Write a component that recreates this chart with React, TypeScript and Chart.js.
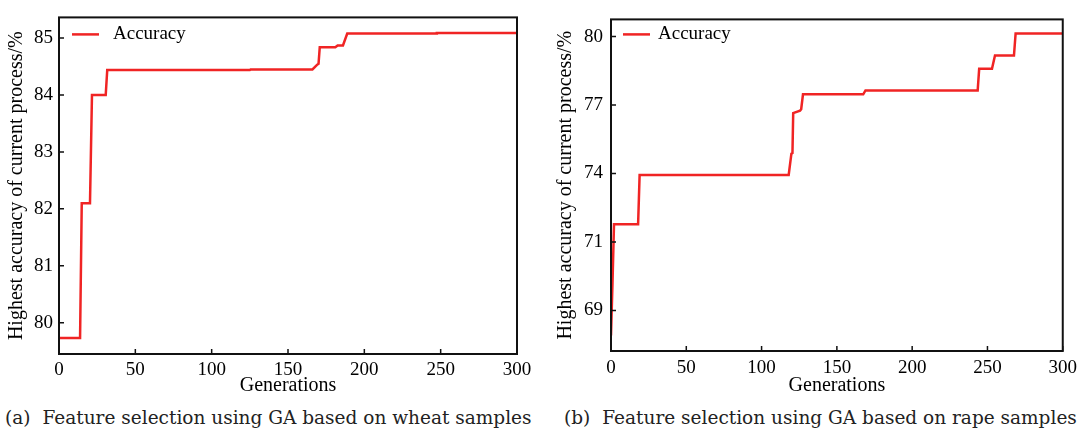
import React, { useEffect, useRef } from 'react';
import { Chart, registerables } from 'chart.js';
Chart.register(...registerables);

// ---------- data ----------
const xTickValues = [0, 50, 100, 150, 200, 250, 300];

const genA = [0, 13.8, 14.9, 20.3, 21.6, 30.6, 31.6, 125, 125.5, 166, 169, 170, 170.8, 181, 182.5, 186, 188.8, 247, 247.5, 300];
const accA = [79.73, 79.73, 82.1, 82.1, 84.0, 84.0, 84.44, 84.44, 84.45, 84.45, 84.53, 84.55, 84.84, 84.84, 84.87, 84.87, 85.08, 85.08, 85.09, 85.09];
const yTickValuesA = [80, 81, 82, 83, 84, 85];
const yTickLabelsA = ['80', '81', '82', '83', '84', '85'];

const genB = [0, 1, 2, 18, 19, 50, 118, 119.8, 120.5, 121, 125.5, 126.3, 127.5, 167.5, 169, 243.5, 244.5, 253, 255, 267.6, 268.7, 300];
const accB = [66.9, 69.2, 71.78, 71.78, 73.93, 73.94, 73.94, 74.87, 74.9, 76.65, 76.75, 76.82, 77.47, 77.47, 77.64, 77.64, 78.59, 78.59, 79.17, 79.17, 80.14, 80.14];
const yTickValuesB = [68, 71, 74, 77, 80];
const yTickLabelsB = ['69', '71', '74', '77', '80'];

const seriesLabel = 'Accuracy';
const xTitle = 'Generations';
const yTitle = 'Highest accuracy of current process/%';
const captionA = ['(a)', 'Feature selection using GA based on wheat samples'];
const captionB = ['(b)', 'Feature selection using GA based on rape samples'];

// ---------- styling ----------
const SERIF = "'Liberation Serif', 'Times New Roman', serif";
const LINE_COLOR = '#f02424';

const frameTicks = {
  id: 'frameTicks',
  afterDraw(chart: any) {
    const { ctx, chartArea: a, scales } = chart;
    ctx.save();
    ctx.strokeStyle = '#111';
    ctx.lineWidth = 1.5;
    const len = 5;
    ctx.beginPath();
    scales.x.ticks.forEach((t: any) => {
      const px = scales.x.getPixelForValue(t.value);
      ctx.moveTo(px, a.bottom);
      ctx.lineTo(px, a.bottom - len);
    });
    scales.y.ticks.forEach((t: any) => {
      const py = scales.y.getPixelForValue(t.value);
      ctx.moveTo(a.left, py);
      ctx.lineTo(a.left + len, py);
    });
    ctx.stroke();
    ctx.lineWidth = 2;
    ctx.strokeRect(a.left, a.top, a.right - a.left, a.bottom - a.top);
    ctx.restore();
  },
};

const innerLegend = {
  id: 'innerLegend',
  afterDraw(chart: any, _args: any, opts: any) {
    const { ctx, chartArea: a } = chart;
    const ds = chart.data.datasets[0];
    const y = a.top + opts.dy;
    ctx.save();
    ctx.strokeStyle = ds.borderColor;
    ctx.lineWidth = 2.5;
    ctx.beginPath();
    ctx.moveTo(a.left + opts.x0, y);
    ctx.lineTo(a.left + opts.x1, y);
    ctx.stroke();
    ctx.fillStyle = '#000';
    ctx.font = `19px ${SERIF}`;
    ctx.textBaseline = 'middle';
    ctx.textAlign = 'left';
    ctx.fillText(ds.label, a.left + opts.tx, y);
    ctx.restore();
  },
};

function makeConfig(p: any): any {
  return {
    type: 'line',
    data: {
      datasets: [
        {
          label: seriesLabel,
          data: p.gens.map((g: number, i: number) => ({ x: g, y: p.acc[i] })),
          borderColor: LINE_COLOR,
          backgroundColor: LINE_COLOR,
          borderWidth: 2.5,
          pointRadius: 0,
          tension: 0,
          fill: false,
        },
      ],
    },
    options: {
      animation: false,
      responsive: false,
      maintainAspectRatio: false,
      layout: { padding: { top: p.padTop, right: p.padRight, left: 0, bottom: 0 } },
      plugins: {
        legend: { display: false },
        tooltip: { enabled: false },
        innerLegend: p.legend,
      },
      scales: {
        x: {
          type: 'linear',
          min: 0,
          max: 300,
          afterBuildTicks: (s: any) => {
            s.ticks = xTickValues.map((v) => ({ value: v }));
          },
          afterFit: (s: any) => {
            s.height = p.xHeight;
          },
          grid: { display: false, drawTicks: false },
          border: { display: false },
          ticks: {
            autoSkip: false,
            maxRotation: 0,
            padding: p.xTickPad,
            color: '#000',
            font: { family: SERIF, size: 19 },
            callback: (v: any) => String(v),
          },
          title: {
            display: true,
            text: xTitle,
            color: '#000',
            font: { family: SERIF, size: 20 },
            padding: { top: 0, bottom: 2 },
          },
        },
        y: {
          type: 'linear',
          min: p.yMin,
          max: p.yMax,
          afterBuildTicks: (s: any) => {
            s.ticks = p.yTicks.map((v: number) => ({ value: v }));
          },
          afterFit: (s: any) => {
            s.width = p.yWidth;
          },
          grid: { display: false, drawTicks: false },
          border: { display: false },
          ticks: {
            autoSkip: false,
            padding: p.yTickPad,
            color: '#000',
            font: { family: SERIF, size: 19 },
            callback: (_v: any, i: number) => p.yLabels[i],
          },
          title: {
            display: true,
            text: yTitle,
            color: '#000',
            font: { family: SERIF, size: 20 },
            padding: { top: p.yTitlePad, bottom: 0 },
          },
        },
      },
    },
    plugins: [frameTicks, innerLegend],
  };
}

function ChartCanvas({ cfg, left, width, height }: any) {
  const ref = useRef<HTMLCanvasElement>(null);
  useEffect(() => {
    if (!ref.current) return;
    const chart = new Chart(ref.current, makeConfig(cfg));
    return () => chart.destroy();
  }, []);
  return (
    <canvas
      ref={ref}
      width={width}
      height={height}
      style={{ position: 'absolute', left, top: 0, width, height }}
    />
  );
}

const cfgA = {
  gens: genA,
  acc: accA,
  yMin: 79.45,
  yMax: 85.364,
  yTicks: yTickValuesA,
  yLabels: yTickLabelsA,
  padTop: 13,
  padRight: 24,
  yWidth: 59,
  xHeight: 46,
  xTickPad: 5,
  yTickPad: 6,
  yTitlePad: 5,
  legend: { x0: 13, x1: 40, tx: 54, dy: 17 },
};

const cfgB = {
  gens: genB,
  acc: accB,
  yMin: 66.22,
  yMax: 80.755,
  yTicks: yTickValuesB,
  yLabels: yTickLabelsB,
  padTop: 18,
  padRight: 15,
  yWidth: 70,
  xHeight: 49,
  xTickPad: 6,
  yTickPad: 8,
  yTitlePad: 13,
  legend: { x0: 12, x1: 39, tx: 47, dy: 15 },
};

function Caption({ parts, left }: any) {
  return (
    <div
      style={{
        position: 'absolute',
        left,
        top: 407,
        whiteSpace: 'nowrap',
        fontFamily: "'DejaVu Serif', serif",
        fontSize: 18.5,
        lineHeight: '22px',
        color: '#222',
      }}
    >
      <span style={{ marginRight: 12 }}>{parts[0]}</span>
      {parts[1]}
    </div>
  );
}

export default function App() {
  return (
    <div
      style={{
        position: 'absolute',
        left: 0,
        top: 0,
        width: 1083,
        height: 436,
        background: '#fff',
        overflow: 'hidden',
      }}
    >
      <ChartCanvas cfg={cfgA} left={0} width={541} height={400} />
      <ChartCanvas cfg={cfgB} left={541} width={542} height={400} />
      <Caption parts={captionA} left={5} />
      <Caption parts={captionB} left={564} />
    </div>
  );
}
